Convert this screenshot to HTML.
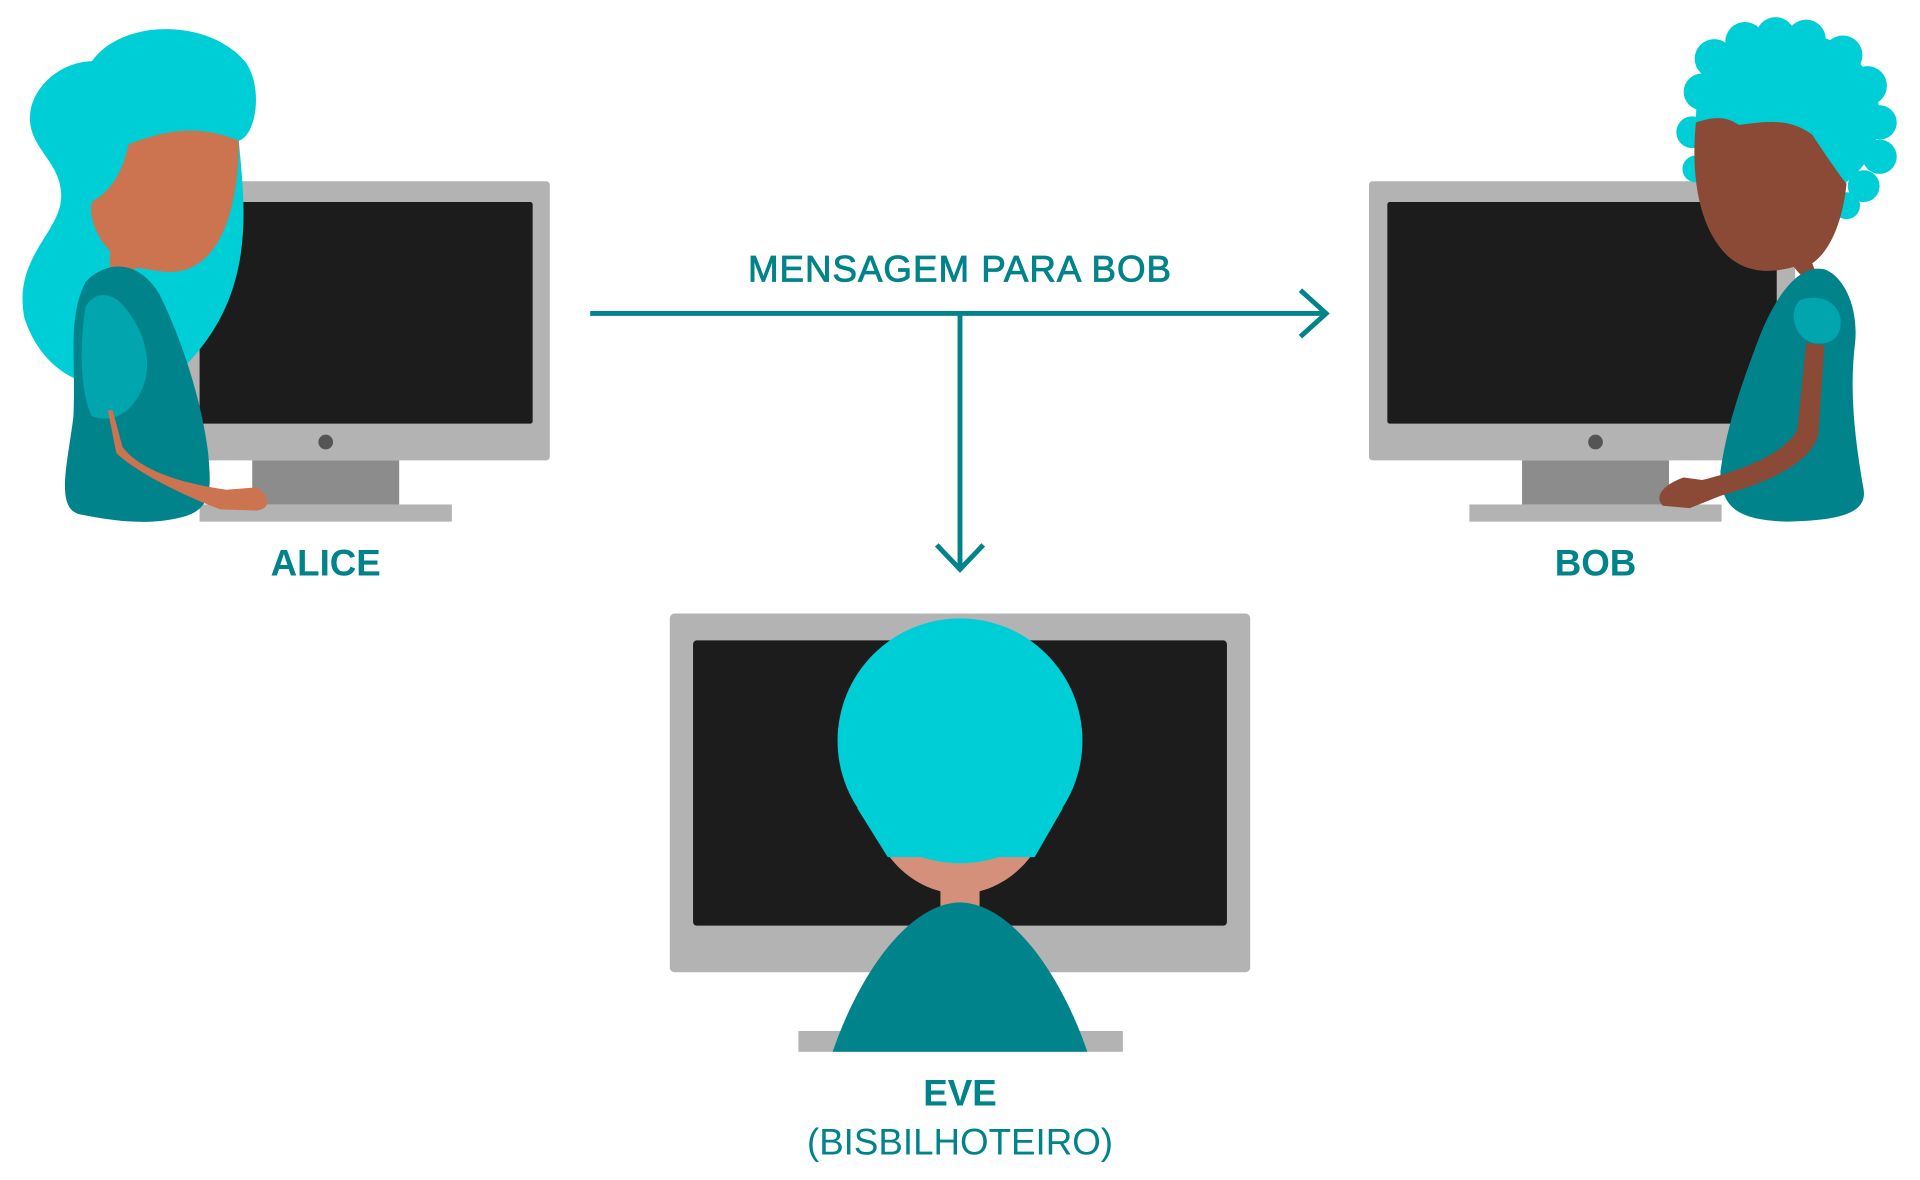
<!DOCTYPE html>
<html><head><meta charset="utf-8"><style>
html,body{margin:0;padding:0;background:#fff;}
svg{display:block}
text{font-family:"Liberation Sans",sans-serif;fill:#00838a}
</style></head><body>
<svg width="1920" height="1180" viewBox="0 0 1568 963.7" preserveAspectRatio="none" xmlns="http://www.w3.org/2000/svg">
<!-- Alice monitor -->
<rect x="150" y="148" width="299" height="228" rx="3" fill="#b3b3b3"/>
<rect x="163" y="165" width="272" height="181" rx="2" fill="#1c1c1c"/>
<circle cx="266" cy="361" r="6" fill="#555"/>
<rect x="206" y="376" width="120" height="36" fill="#8c8c8c"/>
<rect x="163" y="412" width="206" height="14" fill="#b3b3b3"/>
<!-- Alice -->
<path d="M75,50 C100,15 170,15 200,50 C215,70 210,110 195,115 C200,170 210,240 150,300 C100,330 40,320 20,260 C10,210 50,190 50,160 C50,130 20,120 25,90 C30,65 55,50 75,50Z" fill="#00ced6"/>
<path d="M105,118 C130,108 160,100 195,115 C195,170 180,225 135,222 C115,220 108,215 108,225 L105,232 C93,235 88,225 90,205 C80,195 72,178 75,165 C92,155 100,140 105,118Z" fill="#cc7350"/>
<path d="M70,230 C90,210 115,215 130,240 C150,280 165,330 170,370 C172,395 175,415 150,422 C120,430 90,425 65,420 C45,415 55,380 60,340 C62,290 55,260 70,230Z" fill="#00838a"/>
<path d="M70,250 C80,235 95,240 105,255 C120,275 125,300 115,320 C105,340 90,345 75,340 C65,320 65,280 70,250Z" fill="#00a5ad"/>
<path d="M92,335 L100,365 C115,385 150,395 185,400 L210,398 C220,405 222,415 210,417 L180,416 C150,405 110,385 95,370 L88,335Z" fill="#cc7350"/>
<!-- Bob monitor -->
<rect x="1118" y="148" width="348" height="228" rx="3" fill="#b3b3b3"/>
<rect x="1133" y="165" width="318" height="181" rx="2" fill="#1c1c1c"/>
<circle cx="1303" cy="361" r="6" fill="#555"/>
<rect x="1243" y="376" width="120" height="36" fill="#8c8c8c"/>
<rect x="1200" y="412" width="206" height="14" fill="#b3b3b3"/>
<!-- Bob -->
<g fill="#00ced6">
<ellipse cx="1460" cy="95" rx="75" ry="70"/><circle cx="1400" cy="48" r="16"/><circle cx="1425" cy="34" r="16"/><circle cx="1450" cy="30" r="16"/><circle cx="1475" cy="32" r="16"/><circle cx="1505" cy="45" r="16"/><circle cx="1525" cy="70" r="16"/><circle cx="1535" cy="100" r="14"/><circle cx="1535" cy="128" r="14"/><circle cx="1522" cy="152" r="13"/><circle cx="1390" cy="75" r="15"/><circle cx="1382" cy="108" r="13"/><circle cx="1385" cy="138" r="11"/><circle cx="1508" cy="168" r="11"/>
</g>
<path d="M1385,100 C1400,95 1410,95 1420,102 C1440,100 1460,95 1480,110 C1490,125 1500,140 1508,150 C1505,180 1495,205 1480,215 L1485,228 C1478,232 1470,225 1465,218 C1450,222 1430,225 1412,210 C1390,190 1380,150 1385,100Z" fill="#8b4a35"/>
<path d="M1490,220 C1470,215 1450,240 1435,280 C1420,320 1410,350 1405,385 C1405,415 1420,425 1460,426 C1500,425 1525,420 1522,400 C1515,360 1510,320 1515,280 C1518,250 1505,225 1490,220Z" fill="#00838a"/>
<path d="M1470,245 C1485,240 1500,245 1503,260 C1505,275 1495,283 1480,280 C1465,275 1460,255 1470,245Z" fill="#00a5ad"/>
<path d="M1475,280 L1490,282 L1485,355 C1478,380 1440,395 1405,405 L1380,415 L1358,413 C1350,405 1360,395 1375,390 L1390,392 C1420,385 1460,370 1468,350Z" fill="#8b4a35"/>
<!-- Arrows -->
<g stroke="#00838a" stroke-width="4" fill="none">
<line x1="482" y1="256" x2="1083" y2="256"/>
<polyline points="1062,237 1083,256 1062,275"/>
<line x1="784" y1="256" x2="784" y2="465"/>
<polyline points="765,445 784,465 803,445"/>
</g>
<text x="784" y="230" font-size="30" text-anchor="middle" stroke="#00838a" stroke-width="0.7" letter-spacing="0.8">MENSAGEM PARA BOB</text>
<text x="266" y="470" font-size="30" font-weight="bold" text-anchor="middle">ALICE</text>
<text x="1303" y="470" font-size="30" font-weight="bold" text-anchor="middle">BOB</text>
<!-- Eve monitor -->
<rect x="547" y="501" width="474" height="293" rx="4" fill="#b3b3b3"/>
<rect x="566" y="523" width="436" height="233" rx="3" fill="#1c1c1c"/>
<rect x="652" y="842" width="265" height="17" fill="#b3b3b3"/>
<!-- Eve -->
<path d="M715,680 C730,715 760,730 784,730 C808,730 838,715 853,680Z" fill="#d4907a"/>
<rect x="768" y="725" width="32" height="18" fill="#d4907a"/>
<circle cx="784" cy="605" r="100" fill="#00ced6"/>
<path d="M700,660 L725,700 L845,700 L868,660Z" fill="#00ced6"/>
<path d="M680,859 C700,800 740,738 784,737 C828,738 868,800 888,859Z" fill="#00838a"/>
<text x="784" y="903" font-size="30" font-weight="bold" text-anchor="middle">EVE</text>
<text x="784" y="943" font-size="30" text-anchor="middle">(BISBILHOTEIRO)</text>
</svg>
</body></html>
